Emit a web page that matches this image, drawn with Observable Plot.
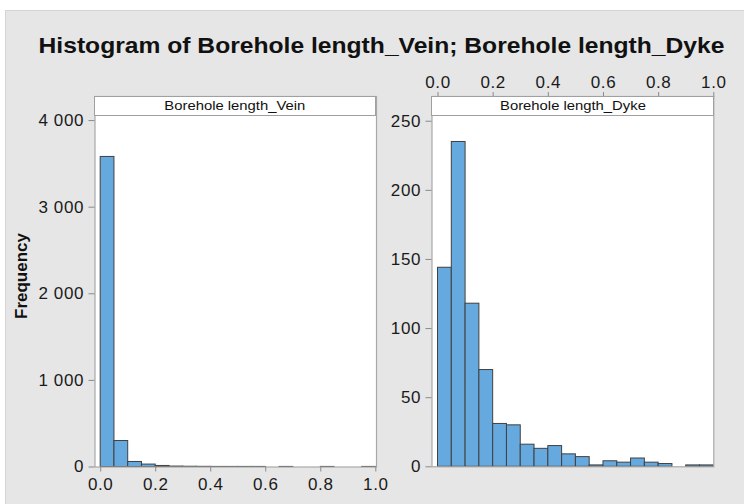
<!DOCTYPE html>
<html>
<head>
<meta charset="utf-8">
<script src="https://cdn.jsdelivr.net/npm/d3@7"></script>
<script src="https://cdn.jsdelivr.net/npm/@observablehq/plot@0.6"></script>
<style>
  html, body { margin: 0; padding: 0; background: #ffffff; }
  #wrap { position: relative; width: 744px; height: 504px; overflow: hidden; font-family: "Liberation Sans", Arial, sans-serif; }
  #bg { position: absolute; left: 5px; top: 10px; width: 739px; height: 494px; background: #e6e6e6; border-left: 1px solid #d4d4d4; border-top: 1px solid #d4d4d4; box-sizing: border-box; }
  #title { position: absolute; left: 12px; width: 739px; top: 33px; text-align: center; font-weight: bold; font-size: 22px; color: #111; transform: scaleX(1.12); transform-origin: 369.5px 0; }
  #ylab { position: absolute; left: 22px; top: 276px; transform: translate(-50%, -50%) rotate(-90deg); font-weight: bold; font-size: 17px; color: #111; white-space: nowrap; }
  .strip { position: absolute; height: 20px; background: #fff; border: 1px solid #a0a0a0; box-sizing: border-box; text-align: center; font-size: 13px; line-height: 18px; color: #111; }
  .strip span { display: inline-block; transform: scaleX(1.14); }
  .panel { position: absolute; top: 0; }
  svg text { letter-spacing: 0.6px; }
</style>
</head>
<body>
<div id="wrap">
  <div id="bg"></div>
  <div id="title">Histogram of Borehole length_Vein; Borehole length_Dyke</div>
  <div id="ylab">Frequency</div>
  <div id="left" class="panel" style="left:0px"></div>
  <div id="right" class="panel" style="left:380px"></div>
  <div class="strip" style="left:94px; top:96px; width:282px;"><span>Borehole length_Vein</span></div>
  <div class="strip" style="left:431px; top:96px; width:283px;"><span>Borehole length_Dyke</span></div>
</div>
<script>
// Bin edges (shared by both histograms)
const binStart = [0.00, 0.05, 0.10, 0.15, 0.20, 0.25, 0.30, 0.35, 0.40, 0.45, 0.50, 0.55, 0.60, 0.65, 0.70, 0.75, 0.80, 0.85, 0.90, 0.95];
const binEnd   = [0.05, 0.10, 0.15, 0.20, 0.25, 0.30, 0.35, 0.40, 0.45, 0.50, 0.55, 0.60, 0.65, 0.70, 0.75, 0.80, 0.85, 0.90, 0.95, 1.00];
// Frequencies
const veinCounts = [3580, 300, 58, 28, 12, 5, 3, 2, 1, 1, 1, 1, 0, 1, 0, 0, 1, 0, 0, 1];
const dykeCounts = [144, 235, 118, 70, 31, 30, 16, 13, 15, 9, 7, 1, 4, 3, 6, 3, 2, 0, 1, 1];
// Tick values
const xTicks = [0, 0.2, 0.4, 0.6, 0.8, 1.0];
const veinYTicks = [0, 1000, 2000, 3000, 4000];
const dykeYTicks = [0, 50, 100, 150, 200, 250];

const veinData = binStart.map((s, i) => ({x1: s, x2: binEnd[i], y: veinCounts[i]}));
const dykeData = binStart.map((s, i) => ({x1: s, x2: binEnd[i], y: dykeCounts[i]}));

const fmtThousands = d => d3.format(",")(d).replace(/,/g, " ");
const barFill = "#66a9de";
const barStroke = "#404040";
const tickColor = "#8a8a8a";
const style = {background: "transparent", fontFamily: "'Liberation Sans', Arial, sans-serif", fontSize: "17px", color: "#1a1a1a", overflow: "visible"};

const left = Plot.plot({
  width: 390, height: 504,
  marginLeft: 94.5, marginRight: 14, marginTop: 96, marginBottom: 37.5,
  style,
  x: {domain: [-0.0207, 1.0025]},
  y: {domain: [0, 4278]},
  marks: [
    Plot.frame({fill: "white", stroke: "none"}),
    Plot.rectY(veinData, {x1: "x1", x2: "x2", y: "y", fill: barFill, stroke: barStroke, strokeWidth: 1}),
    Plot.frame({stroke: "#a8a8a8", strokeWidth: 1.2}),
    Plot.axisY({ticks: veinYTicks, tickFormat: fmtThousands, tickSize: 6, tickPadding: 5, stroke: tickColor, label: null, fontSize: 17}),
    Plot.axisX({ticks: xTicks, tickFormat: d3.format(".1f"), anchor: "bottom", tickSize: 5, tickPadding: 6, stroke: tickColor, label: null, fontSize: 17})
  ]
});
document.getElementById("left").appendChild(left);

const right = Plot.plot({
  width: 364, height: 504,
  marginLeft: 51.5, marginRight: 30.7, marginTop: 96, marginBottom: 37.7,
  style,
  x: {domain: [-0.0218, 1.0]},
  y: {domain: [0, 267.9]},
  marks: [
    Plot.frame({fill: "white", stroke: "none"}),
    Plot.rectY(dykeData, {x1: "x1", x2: "x2", y: "y", fill: barFill, stroke: barStroke, strokeWidth: 1}),
    Plot.frame({stroke: "#a8a8a8", strokeWidth: 1.2}),
    Plot.axisY({ticks: dykeYTicks, tickSize: 6, tickPadding: 5, stroke: tickColor, label: null, fontSize: 17}),
    Plot.axisX({ticks: xTicks, tickFormat: d3.format(".1f"), anchor: "top", tickSize: 5, tickPadding: 4, stroke: tickColor, label: null, fontSize: 17})
  ]
});
document.getElementById("right").appendChild(right);
</script>
</body>
</html>
